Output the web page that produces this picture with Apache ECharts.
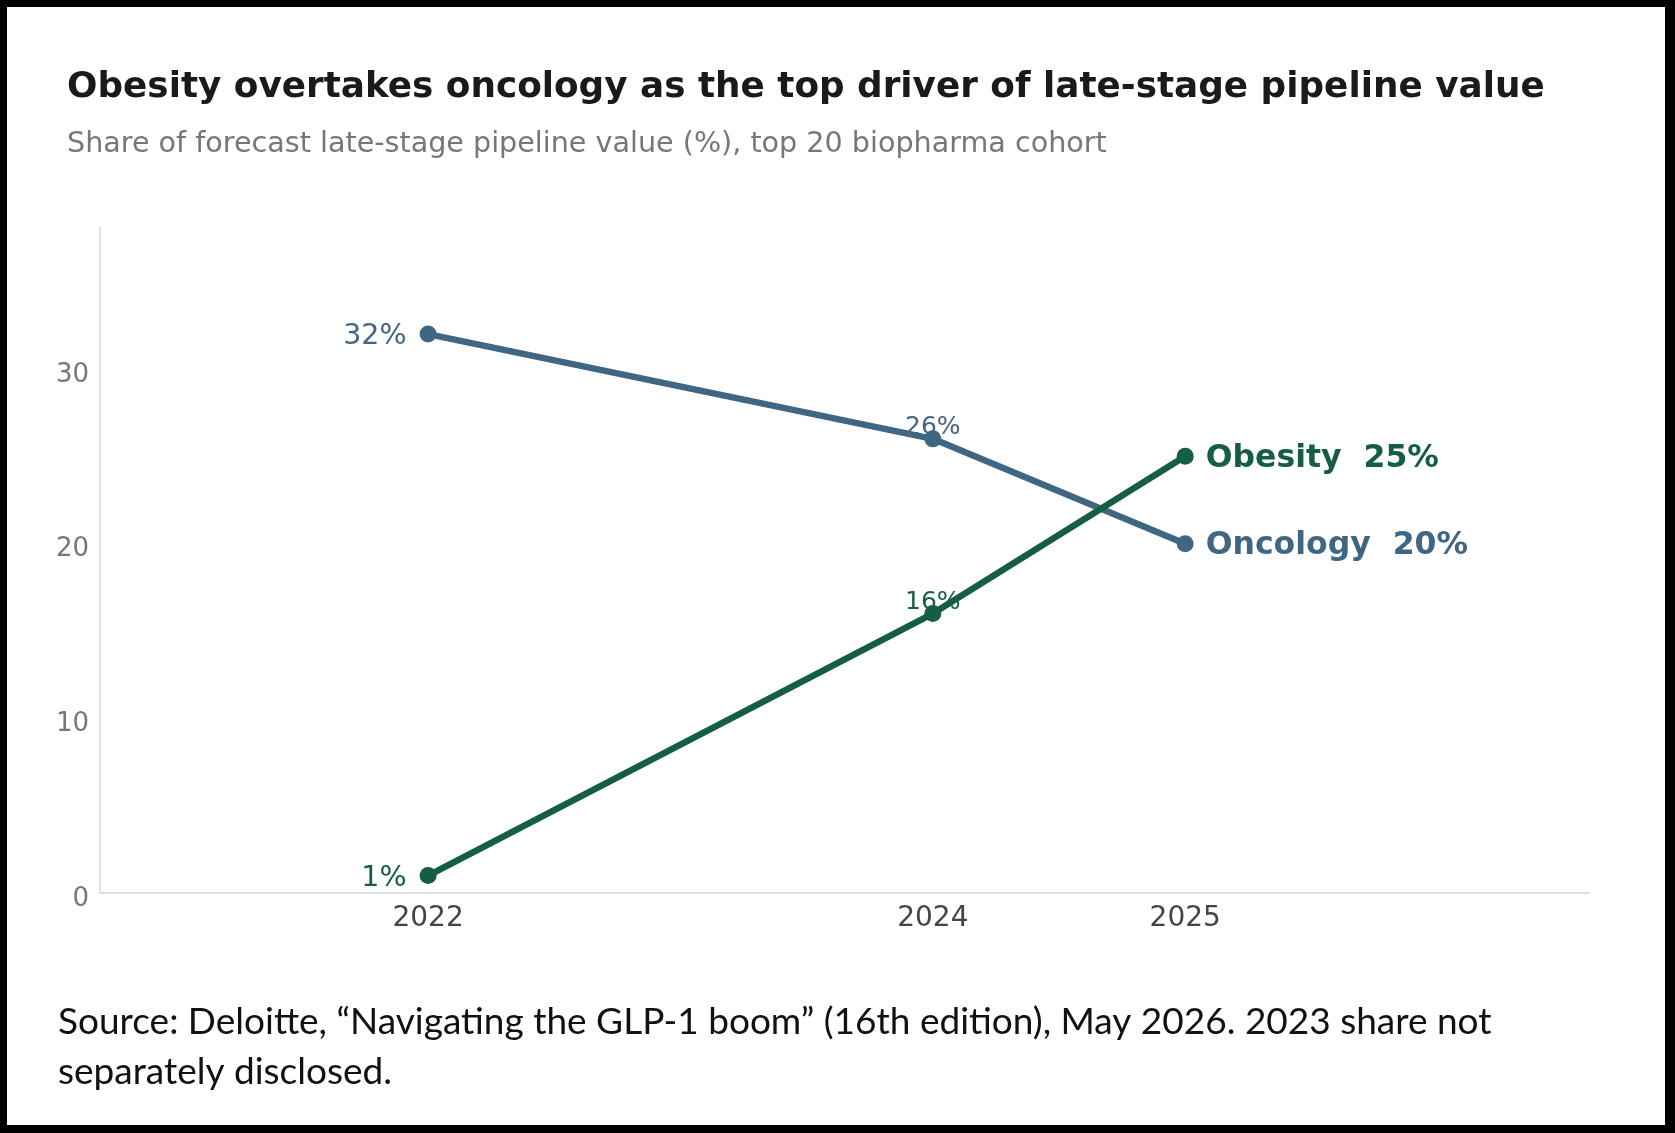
<!DOCTYPE html>
<html>
<head>
<meta charset="utf-8">
<script src="https://cdn.jsdelivr.net/npm/echarts@6/dist/echarts.min.js"></script>
<style>
  html, body { margin: 0; padding: 0; background: #ffffff; }
  #chart { position: absolute; left: 0; top: 0; width: 1675px; height: 1133px; background: #ffffff; }
  #frame { position: absolute; left: 0; top: 0; width: 1675px; height: 1133px; box-sizing: border-box;
           border-style: solid; border-color: #000; border-width: 7px 10px 8px 7px; pointer-events: none; }
</style>
</head>
<body>
<div id="chart"></div>
<div id="frame"></div>
<script>
const titleText = 'Obesity overtakes oncology as the top driver of late-stage pipeline value';
const subtitleText = 'Share of forecast late-stage pipeline value (%), top 20 biopharma cohort';
const footerText = 'Source: Deloitte, \u201cNavigating the GLP-1 boom\u201d (16th edition), May 2026. 2023 share not\nseparately disclosed.';

const years = [2022, 2024, 2025];
const yearTicks = [2022, 2024, 2025];
const seriesNames = ['Oncology', 'Obesity'];
const oncology = [32, 26, 20];
const obesity = [1, 16, 25];
const seriesColors = ['#3f6683', '#155e42'];

const FONT = 'DejaVu Sans';

function buildData(values, name, color) {
  return values.map(function (v, i) {
    let label;
    if (i === 0) {
      label = { show: true, position: 'left', distance: 13, offset: [0, 3], fontSize: 28.5, color: color,
                fontFamily: FONT, formatter: v + '%' };
    } else if (i === values.length - 1) {
      label = { show: true, position: 'right', distance: 12, offset: [0, 2], fontSize: 31.5, fontWeight: 'bold',
                color: color, fontFamily: FONT, formatter: name + '  ' + v + '%' };
    } else {
      label = { show: true, position: 'top', distance: -10, fontSize: 25, color: color, fontFamily: FONT,
                formatter: v + '%' };
    }
    return { value: [years[i], v], label: label };
  });
}

const chart = echarts.init(document.getElementById('chart'), null, { renderer: 'canvas' });
chart.setOption({
  backgroundColor: '#ffffff',
  animation: false,
  title: [
    { text: titleText, left: 67, top: 70, padding: 0,
      textStyle: { fontFamily: FONT, fontSize: 35.8, fontWeight: 'bold', color: '#1a1a1a' } },
    { text: subtitleText, left: 67, top: 130, padding: 0,
      textStyle: { fontFamily: FONT, fontSize: 28.6, fontWeight: 'normal', color: '#7a7673' } },
    { text: footerText, left: 58, top: 997, padding: 0,
      textStyle: { fontFamily: 'Lato', fontSize: 37, fontWeight: 'normal', color: '#111111', lineHeight: 50 } }
  ],
  grid: { left: 100, right: 86, top: 227, bottom: 240, containLabel: false },
  xAxis: {
    type: 'value', min: 2020.7, max: 2026.6,
    axisLine: { show: true, lineStyle: { color: '#dedede', width: 2 } },
    axisTick: { show: false },
    splitLine: { show: false },
    axisLabel: { customValues: yearTicks, formatter: function (v) { return String(v); },
                 fontFamily: FONT, fontSize: 28, color: '#444444', margin: 12 }
  },
  yAxis: {
    type: 'value', min: 0, max: 38.13, interval: 10,
    axisLine: { show: true, lineStyle: { color: '#e3e3e3', width: 2 } },
    axisTick: { show: false },
    splitLine: { show: false },
    axisLabel: { showMaxLabel: false, fontFamily: FONT, fontSize: 26, color: '#7a7673', margin: 11,
                 formatter: function (v) { return '{t|' + v + '}'; },
                 rich: { t: { fontFamily: FONT, fontSize: 26, color: '#7a7673', padding: [12, 0, 0, 0] } } }
  },
  series: [
    { name: seriesNames[0], type: 'line', data: buildData(oncology, seriesNames[0], seriesColors[0]),
      symbol: 'circle', symbolSize: 17, color: seriesColors[0],
      lineStyle: { width: 6.5, color: seriesColors[0] }, itemStyle: { color: seriesColors[0] }, z: 2 },
    { name: seriesNames[1], type: 'line', data: buildData(obesity, seriesNames[1], seriesColors[1]),
      symbol: 'circle', symbolSize: 17, color: seriesColors[1],
      lineStyle: { width: 6.5, color: seriesColors[1] }, itemStyle: { color: seriesColors[1] }, z: 3 }
  ]
});
</script>
</body>
</html>
